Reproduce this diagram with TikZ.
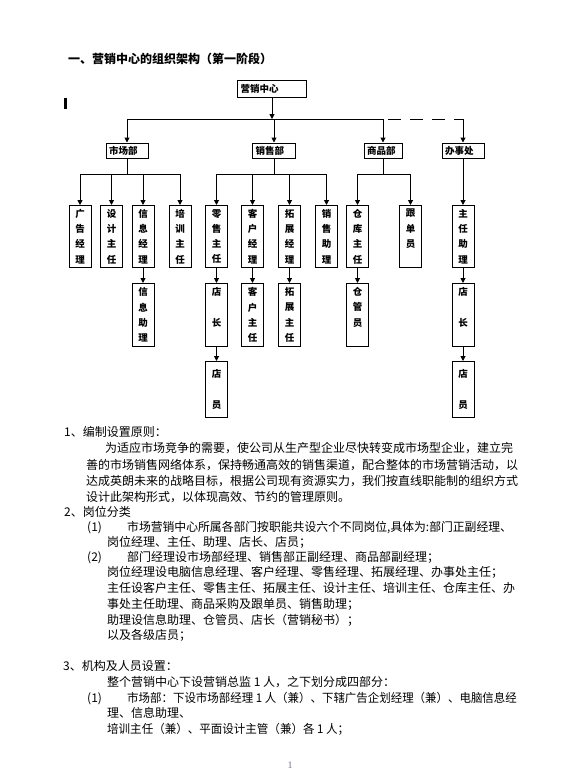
\documentclass[tikz,border=0pt]{standalone}
\usepackage{fontspec}
\usepackage{graphicx}
\setmainfont{Noto Sans CJK SC}
\newfontfamily\serifnum{Liberation Serif}
\usetikzlibrary{arrows.meta}
\definecolor{pgnum}{RGB}{120,120,150}
\tikzset{
  ln/.style={line width=1pt, black},
  arr/.style={ln, -{Triangle[width=5pt,length=5pt]}},
  hb/.style={draw, line width=1pt, inner xsep=3pt, inner ysep=0pt, minimum height=15pt,
    text width=#1, align=left, font=\bfseries\fontsize{9.5}{11}\selectfont},
  vb/.style={draw, line width=1pt, inner sep=0pt, minimum width=22pt, minimum height=#1,
    anchor=north, align=center, font=\bfseries\fontsize{9.5}{15.3}\selectfont},
  tl/.style={anchor=base west, inner sep=0pt, font=\fontsize{12}{14}\selectfont},
  ttl/.style={anchor=base west, inner sep=0pt, font=\bfseries\fontsize{12}{14}\selectfont}
}
\begin{document}
\begin{tikzpicture}[x=1pt,y=-1pt]
\useasboundingbox (0,0) rectangle (588,782);
\fill[white] (0,0) rectangle (588,782);

% title
\node[ttl] (title) at (68,63.6) {一、营销中心的组织架构（第一阶段）};
\fill (64,98) rectangle (66.5,109);

% top level
\node[hb=63pt, minimum height=17pt] (ctr) at (272,88.5) {营销中心};
\node[hb=36pt] (mk) at (127,150.5) {市场部};
\node[hb=37pt] (sp) at (274,150.5) {销售部};
\node[hb=32pt] (sh) at (383,150.5) {商品部};
\node[hb=36pt] (bs) at (463,150.5) {办事处};

\coordinate (bus) at (0,119);
\coordinate (bus2) at (0,174);

\draw[arr] (ctr.south) -- (ctr.south |- bus);
\draw[ln] (mk.north |- bus) -- (sh.north |- bus);
\draw[ln, dash pattern=on 13pt off 9pt] (sh.north |- bus) ++(5,0) -- (bs.north |- bus);
\foreach \n in {mk,sp,sh,bs} \draw[arr] (\n.north |- bus) -- (\n.north);

% row 1
\node[vb=62pt] (gg) at (80,205) {广\\告\\经\\理};
\node[vb=62pt] (sj) at (111.5,205) {设\\计\\主\\任};
\node[vb=62pt] (xj) at (143,205) {信\\息\\经\\理};
\node[vb=62pt] (px) at (180,205) {培\\训\\主\\任};
\node[vb=62pt] (ls) at (216.5,205) {零\\售\\主\\任};
\node[vb=62pt] (kj) at (252.5,205) {客\\户\\经\\理};
\node[vb=62pt] (tj) at (289.5,205) {拓\\展\\经\\理};
\node[vb=62pt] (xz) at (326.5,205) {销\\售\\助\\理};
\node[vb=62pt] (ck) at (357.5,205) {仓\\库\\主\\任};
\node[vb=62pt] (gd) at (410.5,205) {跟\\单\\员\\\phantom{员}};
\node[vb=62pt] (zz) at (463,205) {主\\任\\助\\理};

% row 2
\node[vb=63pt] (xx) at (143,283) {信\\息\\助\\理};
\node[vb=63pt] (dz1) at (216.5,283) {店\\\phantom{店}\\长\\\phantom{店}};
\node[vb=63pt] (kz) at (252.5,283) {客\\户\\主\\任};
\node[vb=63pt] (tz) at (289.5,283) {拓\\展\\主\\任};
\node[vb=63pt] (cg) at (357.5,283) {仓\\管\\员\\\phantom{员}};
\node[vb=63pt] (dz2) at (463,283) {店\\\phantom{店}\\长\\\phantom{店}};

% row 3
\node[vb=56pt] (dy1) at (216.5,361) {店\\\phantom{店}\\员};
\node[vb=56pt] (dy2) at (463,361) {店\\\phantom{店}\\员};

% second-level connectors
\draw[ln] (mk.south) -- (mk.south |- bus2);
\draw[ln] (gg.north |- bus2) -- (px.north |- bus2);
\foreach \n in {gg,sj,xj,px} \draw[arr] (\n.north |- bus2) -- (\n.north);
\draw[ln] (sp.south) -- (sp.south |- bus2);
\draw[ln] (ls.north |- bus2) -- (xz.north |- bus2);
\foreach \n in {ls,kj,tj,xz} \draw[arr] (\n.north |- bus2) -- (\n.north);
\draw[ln] (sh.south) -- (sh.south |- bus2);
\draw[ln] (ck.north |- bus2) -- (gd.north |- bus2);
\foreach \n in {ck,gd} \draw[arr] (\n.north |- bus2) -- (\n.north);
\draw[arr] (bs.south) -- (zz.north);

\draw[arr] (xj.south) -- (xx.north);
\draw[arr] (ls.south) -- (dz1.north);
\draw[arr] (kj.south) -- (kz.north);
\draw[arr] (tj.south) -- (tz.north);
\draw[arr] (ck.south) -- (cg.north);
\draw[arr] (zz.south) -- (dz2.north);
\draw[arr] (dz1.south) -- (dy1.north);
\draw[arr] (dz2.south) -- (dy2.north);

% body text
\node[tl] (l1) at (64,436.6) {1、编制设置原则：};
\node[tl] (l2) at (105,452.6) {为适应市场竞争的需要，使公司从生产型企业尽快转变成市场型企业，建立完};
\node[tl] (l3) at (86,469.6) {善的市场销售网络体系，保持畅通高效的销售渠道，配合整体的市场营销活动，以};
\node[tl] (l4) at (86,485.6) {达成英朗未来的战略目标，根据公司现有资源实力，我们按直线职能制的组织方式};
\node[tl] (l5) at (86,501.6) {设计此架构形式，以体现高效、节约的管理原则。};
\node[tl] (l6) at (64,516.6) {2、岗位分类};
\node[tl] (l7a) at (87,531.6) {(1)};
\node[tl] (l7b) at (127,531.6) {\scalebox{0.985}[1]{市场营销中心所属各部门按职能共设六个不同岗位,具体为:部门正副经理、}};
\node[tl] (l8) at (107,546.6) {岗位经理、主任、助理、店长、店员；};
\node[tl] (l9a) at (87,561.6) {(2)};
\node[tl] (l9b) at (127,561.6) {部门经理设市场部经理、销售部正副经理、商品部副经理；};
\node[tl] (l10) at (107,576.6) {岗位经理设电脑信息经理、客户经理、零售经理、拓展经理、办事处主任；};
\node[tl] (l11) at (107,592.6) {主任设客户主任、零售主任、拓展主任、设计主任、培训主任、仓库主任、办};
\node[tl] (l12) at (107,608.6) {事处主任助理、商品采购及跟单员、销售助理；};
\node[tl] (l13) at (107,624.6) {助理设信息助理、仓管员、店长（营销秘书）；};
\node[tl] (l14) at (107,639.6) {以及各级店员；};
\node[tl] (l15) at (63,670.6) {3、机构及人员设置：};
\node[tl] (l16) at (107,686.6) {整个营销中心下设营销总监 1 人，之下划分成四部分：};
\node[tl] (l17a) at (87,702.6) {(1)};
\node[tl] (l17b) at (127,702.6) {\scalebox{0.955}[1]{市场部：下设市场部经理 1 人（兼）、下辖广告企划经理（兼）、电脑信息经}};
\node[tl] (l18) at (107,717.6) {理、信息助理、};
\node[tl] (l19) at (107,733.6) {\scalebox{0.96}[1]{培训主任（兼）、平面设计主管（兼）各 1 人；}};

\node[inner sep=0pt, text=pgnum, font=\serifnum\fontsize{10}{11}\selectfont] (pn) at (290,765) {1};
\end{tikzpicture}
\end{document}
